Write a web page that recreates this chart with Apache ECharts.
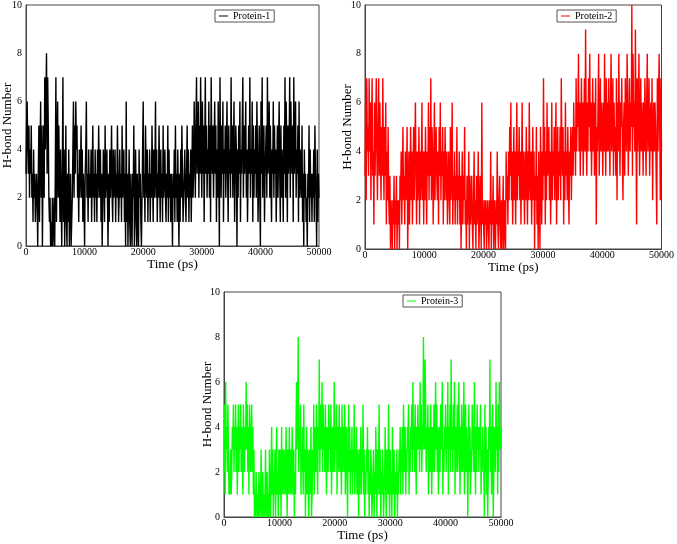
<!DOCTYPE html>
<html><head><meta charset="utf-8">
<script src="https://cdn.jsdelivr.net/npm/echarts@6/dist/echarts.min.js"></script>
<style>html,body{margin:0;padding:0;background:#fff}#c{width:677px;height:544px}</style>
</head><body><div id="c"></div>
<script>
// Time step between samples (ps)
const timeStep = 100;
const xTicks = [0, 10000, 20000, 30000, 40000, 50000];
const yTicks = [0, 2, 4, 6, 8, 10];
const seriesNames = ['Protein-1', 'Protein-2', 'Protein-3'];

const protein1 = [
3,5,6,4,3,5,2,4,3,5, 2,3,1,4,2,3,1,2,3,2, 0,3,5,1,4,6,2,5,0,3, 5,2,7,4,6,8,3,7,5,2,
1,2,0,1,0,2,0,1,2,0, 3,7,1,4,6,2,5,3,1,4, 2,0,3,7,1,4,0,2,5,1, 0,3,1,4,0,2,3,0,1,2,
4,6,2,5,3,6,4,5,2,3, 1,4,2,3,5,2,4,1,3,2, 0,3,4,6,2,3,1,4,2,3, 2,4,1,3,5,2,3,1,4,2,
3,1,4,2,5,3,2,4,1,3, 0,2,4,3,1,5,2,3,4,2, 0,3,1,4,2,3,5,2,1,4, 2,3,4,1,3,2,5,3,1,2,
4,2,3,1,5,2,3,4,1,3, 0,6,1,3,0,2,4,1,0,3, 1,0,3,2,5,0,1,4,2,0, 3,1,0,4,2,3,1,0,2,4,
6,2,3,1,5,3,2,4,1,3, 2,4,1,3,2,5,3,1,4,2, 3,6,2,4,1,3,2,5,3,1, 4,2,3,1,5,2,3,4,2,1,
3,2,5,1,4,2,3,1,3,2, 0,3,2,4,1,5,2,3,1,4, 2,0,3,1,4,2,5,3,1,2, 3,4,2,1,3,5,2,4,1,3,
2,4,1,3,5,2,3,6,4,2, 5,7,3,4,6,2,5,3,7,4, 2,6,3,5,1,4,7,3,5,2, 4,3,6,2,5,1,7,4,3,5,
2,4,6,3,5,1,4,2,6,3, 0,7,4,2,5,3,6,1,4,3, 5,2,4,6,3,1,5,3,4,2, 7,3,5,2,4,6,1,3,5,4,
0,4,2,5,3,6,1,4,3,5, 7,2,5,3,4,6,2,4,1,3, 5,3,7,2,4,3,6,1,5,2, 4,3,5,2,6,4,1,3,5,2,
0,6,3,7,2,4,5,1,3,4, 5,2,7,3,4,6,2,5,3,1, 4,3,6,2,5,3,4,1,3,5, 2,4,6,3,1,5,2,4,3,1,
5,3,7,2,6,4,1,5,3,4, 7,2,6,4,3,5,1,7,3,4, 6,2,4,3,5,1,6,2,4,3, 2,5,1,3,0,4,2,3,1,2,
0,3,2,5,1,4,2,3,1,3, 2,4,1,5,3,2,0,4,1,3, 2
];

const protein2 = [
3,6,2,7,4,5,3,7,4,6, 2,5,7,3,4,1,6,3,5,7, 4,2,5,7,3,6,4,2,5,3, 7,4,2,5,3,6,1,4,2,5,
2,1,3,0,2,1,0,2,1,3, 0,2,1,3,0,2,1,2,0,3, 2,4,1,3,5,2,3,1,4,2, 3,5,0,2,4,1,3,5,2,4,
1,3,5,2,4,6,3,1,4,2, 3,5,1,4,2,3,6,2,4,1, 4,2,5,3,1,4,3,6,2,5, 3,7,2,5,4,1,3,6,2,4,
5,3,2,4,1,5,3,6,2,4, 3,5,1,4,2,5,3,2,4,1, 2,4,3,1,5,2,3,6,1,3, 2,4,1,3,2,5,1,3,2,4,
1,3,0,2,4,1,3,2,5,1, 2,0,3,1,2,4,0,3,1,2, 3,1,0,2,4,1,2,0,3,1, 2,4,0,1,3,2,0,6,1,2,
1,0,2,1,2,0,1,2,1,0, 2,1,4,0,2,1,3,0,2,1, 0,2,1,4,1,0,2,3,1,0, 2,0,1,3,0,2,1,0,4,2,
3,1,4,2,5,3,6,2,4,1, 3,5,2,4,1,3,6,2,4,3, 5,2,4,1,3,6,2,4,3,1, 4,2,5,3,1,4,2,6,3,2,
4,1,3,5,2,4,0,3,2,5, 1,3,0,4,2,0,5,3,1,4, 2,7,3,5,1,4,2,6,3,4, 5,2,4,1,3,6,2,4,3,5,
2,4,6,1,3,5,2,4,3,5, 2,7,4,3,5,1,4,2,6,3, 4,2,5,3,1,4,3,5,2,4, 5,3,6,4,5,3,7,4,6,5,
8,4,6,3,5,7,4,6,3,5, 7,4,9,5,3,6,4,7,5,8, 4,6,3,5,7,4,6,3,5,7, 1,5,4,6,8,3,5,7,4,6,
5,3,6,4,8,5,3,7,4,6, 4,7,5,3,6,8,4,5,7,3, 6,4,5,3,7,2,6,4,8,5, 3,6,5,7,4,2,5,6,3,7,
5,4,8,6,3,5,7,4,6,5, 10,3,8,5,6,4,9,5,1,7, 4,6,8,3,5,7,4,6,5,3, 6,4,7,5,3,6,8,4,5,7,
3,5,6,4,7,2,5,6,4,6, 5,3,1,7,4,6,8,5,2,7, 4
];

const protein3 = [
2,5,1,6,3,4,2,5,3,1, 2,1,3,1,2,4,3,5,2,4, 3,5,2,4,1,3,5,2,4,3, 5,2,4,3,1,5,3,2,4,3,
6,3,5,2,4,1,5,3,2,4, 5,2,4,1,3,0,1,0,2,1, 0,1,0,2,1,0,1,3,0,1, 2,0,1,0,1,3,0,1,2,0,
1,0,3,1,0,2,4,1,3,0, 2,1,3,0,2,4,1,2,0,3, 1,3,2,0,4,1,2,3,1,2, 3,1,4,2,0,3,1,2,4,1,
2,3,1,4,2,1,3,0,2,1, 4,6,3,5,8,2,4,3,5,1, 3,2,4,1,5,2,3,0,2,4, 1,3,2,0,3,1,2,4,0,1,
3,2,5,1,4,3,2,5,3,1, 4,3,7,2,5,4,3,6,2,5, 3,4,2,5,3,1,4,3,2,5, 3,4,2,5,1,3,4,2,3,6,
2,4,3,5,1,4,2,3,5,2, 4,3,1,5,2,4,3,2,5,1, 3,4,2,0,3,5,2,4,1,3, 2,4,1,3,2,5,1,3,2,4,
1,3,2,0,3,1,2,4,1,3, 2,5,1,3,0,2,1,3,2,4, 1,3,0,2,1,3,2,0,1,2, 3,0,2,1,4,2,0,3,1,2,
5,1,3,0,2,1,3,2,0,1, 2,4,1,0,3,2,1,5,2,0, 3,1,2,0,4,1,2,3,0,1, 2,1,3,0,2,1,3,2,4,1,
3,2,4,1,5,3,2,4,1,3, 2,4,3,5,1,3,2,4,3,5, 2,6,3,4,2,5,3,1,4,3, 5,3,4,2,6,3,5,2,4,3,
8,4,3,7,5,2,4,3,5,1, 3,4,2,5,3,1,4,2,3,5, 2,4,6,3,5,2,4,1,3,4, 2,5,3,4,6,1,3,2,4,3,
5,2,4,3,6,1,4,3,5,2, 7,3,4,2,5,3,6,1,4,2, 3,5,2,4,6,3,1,4,2,5, 3,2,4,6,1,3,5,2,4,3,
0,3,5,2,4,1,3,2,5,3, 4,2,6,3,1,4,2,5,3,4, 2,4,3,5,1,3,2,4,3,2, 0,5,2,4,1,3,0,2,4,3,
7,2,4,1,3,5,0,2,4,3, 2,6,3,4,1,5,2,6,3,4, 3
];

const colors = ['#000000', '#ff0000', '#00ff00'];
const values = [protein1, protein2, protein3];

const FONT = 'Liberation Serif';
const grids = [
  {left: 26, top: 5, width: 293, height: 241},
  {left: 365, top: 5, width: 297, height: 244},
  {left: 224, top: 292, width: 277, height: 225}
];
const yNameGaps = [12, 11, 10];
const legendPos = [
  {left: 215, top: 10},
  {left: 557, top: 10},
  {left: 403, top: 295}
];

const chart = echarts.init(document.getElementById('c'), null, {renderer: 'canvas'});
const option = {
  animation: false,
  backgroundColor: '#fff',
  grid: grids.map(g => Object.assign({show: true, borderColor: '#444', borderWidth: 1, backgroundColor: 'transparent'}, g)),
  xAxis: grids.map((g, i) => ({
    type: 'value', gridIndex: i, min: xTicks[0], max: xTicks[xTicks.length - 1], interval: xTicks[1] - xTicks[0],
    name: 'Time (ps)', nameLocation: 'middle', nameGap: 12, nameMoveOverlap: false,
    nameTextStyle: {fontFamily: FONT, fontSize: 13, color: '#000'},
    axisLine: {show: true, lineStyle: {color: '#444', width: 1}},
    axisTick: {show: false}, splitLine: {show: false},
    axisLabel: {fontFamily: FONT, fontSize: 10, color: '#000', margin: 1, formatter: v => String(v)}
  })),
  yAxis: grids.map((g, i) => ({
    type: 'value', gridIndex: i, min: yTicks[0], max: yTicks[yTicks.length - 1], interval: yTicks[1] - yTicks[0],
    name: 'H-bond Number', nameLocation: 'middle', nameGap: yNameGaps[i], nameMoveOverlap: false,
    nameTextStyle: {fontFamily: FONT, fontSize: 13, color: '#000'},
    axisLine: {show: true, lineStyle: {color: '#444', width: 1}},
    axisTick: {show: false}, splitLine: {show: false},
    axisLabel: {fontFamily: FONT, fontSize: 10, color: '#000', margin: 4, formatter: v => String(v)}
  })),
  legend: seriesNames.map((n, i) => ({
    data: [{name: n, icon: 'rect', itemStyle: {color: colors[i]}}], left: legendPos[i].left, top: legendPos[i].top,
    orient: 'vertical', padding: [1, 4, 1, 4], itemGap: 0,
    itemWidth: 9, itemHeight: 1,
    borderColor: '#555', borderWidth: 1, backgroundColor: '#fff',
    textStyle: {fontFamily: FONT, fontSize: 10, color: '#000', padding: [0, 0, 0, 0]}
  })),
  series: values.map((arr, i) => ({
    name: seriesNames[i], type: 'line', xAxisIndex: i, yAxisIndex: i,
    data: arr.map((v, k) => [k * timeStep, v]),
    symbol: 'none', showSymbol: false, sampling: null,
    lineStyle: {color: colors[i], width: 1.4},
    itemStyle: {color: colors[i]},
    emphasis: {disabled: true}, silent: true
  }))
};
chart.setOption(option);
</script></body></html>
